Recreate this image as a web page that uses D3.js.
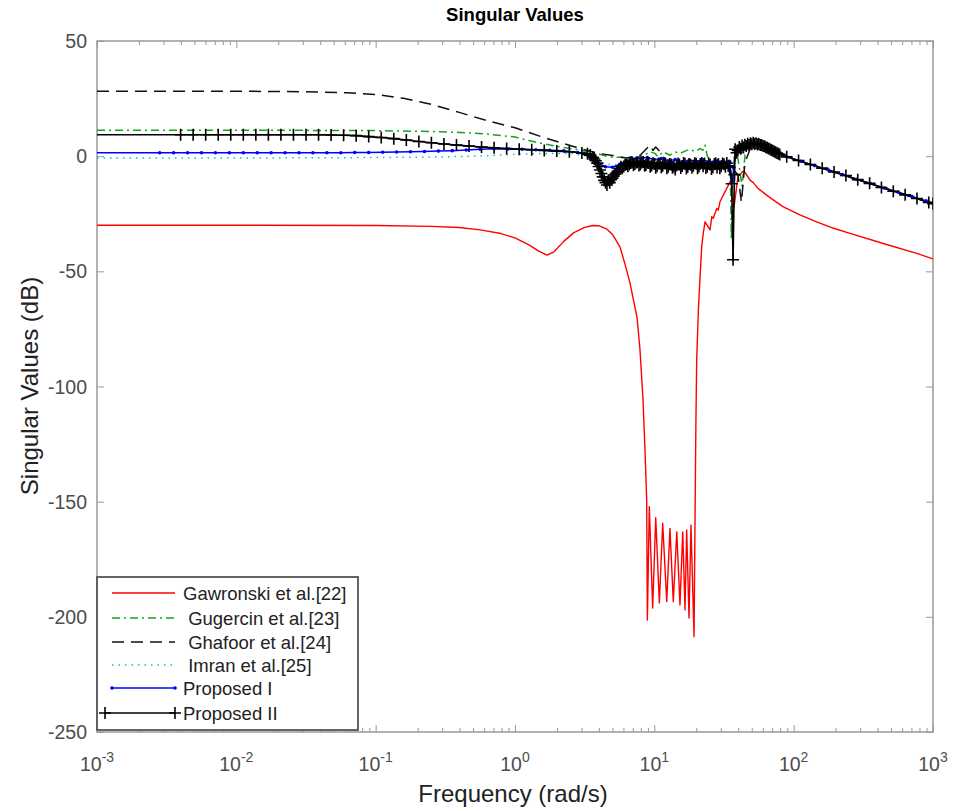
<!DOCTYPE html>
<html>
<head>
<meta charset="utf-8">
<script src="https://cdn.jsdelivr.net/npm/d3@7"></script>
<style>
body { margin: 0; background: #fff; }
text { font-family: "Liberation Sans", Arial, sans-serif; }
</style>
</head>
<body>
<svg id="chart" width="953" height="811"></svg>
<script>
// tick values (x as powers of ten)
const xTickExp = [-3, -2, -1, 0, 1, 2, 3];
const yTicks = [50, 0, -50, -100, -150, -200, -250];

const legendNames = ['Gawronski et al.[22]', ' Gugercin et al.[23]', ' Ghafoor et al.[24]', ' Imran et al.[25]', 'Proposed I', 'Proposed II'];

// each point: [log10(frequency rad/s), singular value dB]
const gawronski = [
  [-3, -30], [-2, -30], [-1, -30.1], [-0.6, -30.5], [-0.4, -31], [-0.25, -32], [-0.1, -33.6], [0, -35.5],
  [0.1, -38.5], [0.17, -41.2], [0.23, -43], [0.28, -41.5], [0.35, -37], [0.42, -33.3], [0.5, -30.9],
  [0.56, -30.1], [0.6, -30.2], [0.66, -31.7], [0.70, -34], [0.754, -39.5], [0.79, -47], [0.825, -55],
  [0.876, -70], [0.897, -84], [0.919, -106], [0.933, -127.6], [0.945, -149], [0.950, -201.4],
  [0.964, -152.2], [0.988, -196.2], [1.010, -157], [1.036, -194], [1.060, -159.4], [1.089, -193.4],
  [1.112, -161.6], [1.136, -193.4], [1.161, -163.1], [1.184, -194.9], [1.204, -163.1], [1.220, -197],
  [1.232, -162.3], [1.249, -200.5], [1.263, -160.2], [1.285, -208.6], [1.292, -158], [1.298, -117.6],
  [1.304, -88.5], [1.316, -67], [1.328, -52.4], [1.340, -39.4], [1.351, -33.5], [1.364, -28.5],
  [1.380, -30], [1.400, -32], [1.412, -26.3], [1.423, -27], [1.448, -22.7], [1.459, -23.4], [1.471, -19.8],
  [1.507, -15.5], [1.531, -12.6], [1.550, -10.5], [1.572, -22], [1.600, -9], [1.636, -6.5], [1.651, -7],
  [1.687, -10.4], [1.710, -11.5], [1.744, -14], [1.806, -16.9], [1.866, -19.5], [1.926, -22], [2.045, -25.5],
  [2.165, -28.5], [2.282, -31.2], [2.404, -33.5], [2.643, -37.9], [2.883, -42.2], [3, -44.6]
];

const gugercin = [
  [-3, 11.3], [-2, 11.3], [-1, 11.1], [-0.6, 10.7], [-0.4, 10.3], [-0.2, 9.6], [0, 8.3], [0.1, 6.8],
  [0.2, 5.4], [0.3, 4.3], [0.45, 2.8], [0.55, 1.7], [0.6, 1], [0.68, -0.4], [0.75, -0.5], [0.85, -1],
  [0.93, 0.5], [0.969, 1.9], [1.005, 1.2], [1.026, -0.3], [1.062, 1.9], [1.112, 0.4], [1.148, 1.9],
  [1.184, 1.2], [1.22, 2.2], [1.256, 3], [1.292, 1.9], [1.328, 3.3], [1.349, 2.6], [1.364, 4.8],
  [1.38, 0], [1.42, -2.5], [1.5, -3], [1.545, -4], [1.553, -36], [1.562, -12], [1.575, 2], [1.6, -1],
  [1.63, -13], [1.655, 3], [1.7, 5.2], [1.75, 5.3], [1.8, 4.3], [1.85, 2.8], [1.9, 1.2], [1.95, -0.3],
  [2.1, -3.2], [2.3, -7.1], [2.5, -11], [2.7, -14.8], [2.9, -18.7], [3, -20.5]
];

const ghafoor = [
  [-3, 28.2], [-2, 28.2], [-1.5, 28], [-1.2, 27.5], [-1, 26.8], [-0.8, 25.1], [-0.6, 22.5], [-0.4, 19],
  [-0.2, 15.4], [0, 12.3], [0.1, 10.3], [0.2, 8.2], [0.32, 6], [0.45, 3.6], [0.59, 1.3], [0.7, 0.3],
  [0.8, -0.8], [0.9, 0.5], [0.969, 4.8], [0.99, 2.5], [1.01, 4], [1.04, 2], [1.08, -2], [1.2, -3],
  [1.3, -3.5], [1.4, -3], [1.5, -4], [1.55, -5], [1.6, -8], [1.625, -20], [1.65, -3], [1.7, 5.2],
  [1.75, 5.3], [1.8, 4.3], [1.85, 2.8], [1.9, 1.2], [1.95, -0.3], [2.1, -3.2], [2.3, -7.1], [2.5, -11],
  [2.7, -14.8], [2.9, -18.7], [3, -20.5]
];

const imran = [
  [-3, -0.8], [-2, -0.8], [-1, -0.6], [-0.5, -0.3], [-0.2, 0.2], [0, 0.8], [0.2, 1.2], [0.4, 1.2],
  [0.5, 0.3], [0.58, -1.5], [0.65, -3.5], [0.72, -3.8], [0.8, -2], [0.9, -1], [1, -1.5], [1.1, -2],
  [1.2, -2.2], [1.3, -2], [1.4, -2.4], [1.5, -2.5], [1.555, -6], [1.57, -3], [1.6, 3], [1.65, 4.7],
  [1.7, 5.2], [1.75, 5.3], [1.8, 4.3], [1.85, 2.8], [1.9, 1.2], [1.95, -0.3], [2.1, -3.2], [2.3, -7.1],
  [2.5, -11], [2.7, -14.8], [2.9, -18.7], [3, -20.5]
];

const proposed1 = [
  [-3, 1.5], [-2.55, 1.5], [-2.45, 1.5], [-2.35, 1.5], [-2.25, 1.5], [-2.15, 1.5], [-2.05, 1.5],
  [-1.95, 1.5], [-1.85, 1.5], [-1.75, 1.5], [-1.65, 1.5], [-1.55, 1.5], [-1.45, 1.5], [-1.35, 1.5],
  [-1.25, 1.5], [-1.15, 1.6], [-1.05, 1.6], [-0.95, 1.7], [-0.85, 1.8], [-0.75, 1.9], [-0.65, 2.0],
  [-0.55, 2.2], [-0.45, 2.4], [-0.35, 2.7], [-0.25, 3.0], [-0.15, 3.2], [-0.05, 3.1], [0.05, 3.0],
  [0.15, 2.8], [0.25, 2.6], [0.35, 2.3], [0.45, 1.6], [0.5, 0.8], [0.55, -1], [0.6, -3.2], [0.65, -4.6],
  [0.7, -4.8], [0.75, -3.6], [0.8, -2], [0.85, -1.2], [0.9, -0.8], [0.95, -0.6], [1.0, -1.5], [1.05, -1],
  [1.1, -2], [1.15, -1.5], [1.2, -2.5], [1.25, -1.8], [1.3, -2.2], [1.35, -1.6], [1.4, -2.5], [1.45, -2],
  [1.5, -2.6], [1.54, -2.2], [1.56, -11], [1.57, -5], [1.59, 2.5], [1.62, 4], [1.66, 4.8], [1.7, 5.2],
  [1.75, 5.3], [1.8, 4.3], [1.85, 2.8], [1.9, 1.2], [1.95, -0.3], [2.05, -2.2], [2.15, -4.1], [2.25, -6],
  [2.35, -8], [2.45, -10], [2.55, -11.9], [2.65, -13.8], [2.75, -15.6], [2.85, -17.5], [2.95, -19.4], [3, -20.4]
];

const proposed2 = [
  [-3, 9.3], [-2.4, 9.3], [-2.31, 9.3], [-2.22, 9.3], [-2.13, 9.3], [-2.04, 9.3], [-1.95, 9.3], [-1.86, 9.3],
  [-1.77, 9.3], [-1.68, 9.3], [-1.59, 9.3], [-1.5, 9.3], [-1.41, 9.3], [-1.32, 9.2], [-1.23, 9.1],
  [-1.14, 8.9], [-1.05, 8.5], [-0.96, 8.1], [-0.87, 7.6], [-0.78, 7.0], [-0.69, 6.4], [-0.6, 5.8],
  [-0.51, 5.3], [-0.42, 4.8], [-0.33, 4.4], [-0.24, 4.0], [-0.15, 3.6], [-0.06, 3.3], [0.03, 3.0],
  [0.12, 2.8], [0.21, 2.5], [0.3, 2.2], [0.39, 1.9], [0.48, 1.4],
  [0.52, 1.0], [0.54, 0.5], [0.56, -0.5], [0.57, -1.2], [0.58, -2.0], [0.59, -3.0], [0.60, -4.5],
  [0.61, -6.0], [0.62, -7.5], [0.63, -9.0], [0.64, -10.5], [0.65, -11.5], [0.66, -12.5], [0.67, -10.5],
  [0.68, -11.5], [0.69, -10.2], [0.70, -9.6], [0.71, -8.6], [0.72, -7.8], [0.73, -7.0], [0.74, -6.5],
  [0.75, -5.5], [0.76, -4.6], [0.77, -5.2], [0.78, -4.5], [0.79, -3.8], [0.80, -3.5], [0.81, -4.4],
  [0.82, -3.6], [0.83, -3.0], [0.84, -2.8], [0.85, -3.9], [0.86, -3.4], [0.87, -2.7], [0.88, -2.6],
  [0.89, -4.0], [0.90, -3.6], [0.91, -2.8], [0.92, -2.5], [0.93, -4.2], [0.94, -3.8], [0.95, -2.9],
  [0.96, -3.0], [0.97, -4.6], [0.98, -4.0], [0.99, -3.1], [1.00, -3.4], [1.01, -5.0], [1.02, -4.4],
  [1.03, -3.2], [1.04, -3.3], [1.05, -4.8], [1.06, -4.2], [1.07, -3.0], [1.08, -3.2], [1.09, -5.3],
  [1.10, -4.6], [1.11, -3.4], [1.12, -3.6], [1.13, -5.0], [1.14, -4.5], [1.15, -5.8], [1.16, -4.0],
  [1.17, -3.2], [1.18, -3.6], [1.19, -5.1], [1.20, -4.3], [1.21, -3.0], [1.22, -3.3], [1.23, -5.4],
  [1.24, -4.6], [1.25, -3.4], [1.26, -3.7], [1.27, -5.0], [1.28, -4.2], [1.29, -3.1], [1.30, -3.3],
  [1.31, -5.2], [1.32, -4.5], [1.33, -3.4], [1.34, -3.0], [1.35, -4.4], [1.36, -3.2], [1.37, -5.1],
  [1.38, -4.6], [1.39, -3.3], [1.40, -3.6], [1.41, -5.6], [1.42, -4.8], [1.43, -3.5], [1.44, -3.1],
  [1.45, -4.9], [1.46, -3.4], [1.47, -5.2], [1.48, -4.4], [1.49, -3.2], [1.50, -3.5], [1.51, -4.6],
  [1.52, -3.0], [1.53, -4.2], [1.54, -4.8], [1.555, -12], [1.565, -45], [1.575, -8], [1.58, 3.0],
  [1.59, 1.5], [1.60, 2.5], [1.61, 4.0], [1.62, 3.2], [1.63, 4.6], [1.64, 3.8], [1.65, 5.0], [1.66, 4.4],
  [1.67, 5.4], [1.68, 4.8], [1.69, 5.6], [1.70, 5.2], [1.71, 5.8], [1.72, 5.3], [1.73, 5.6], [1.74, 5.1],
  [1.75, 5.3], [1.76, 4.8], [1.77, 4.9], [1.78, 4.4], [1.79, 4.3], [1.80, 3.9], [1.81, 3.7], [1.82, 3.3],
  [1.83, 3.0], [1.84, 2.7], [1.85, 2.4], [1.86, 2.0], [1.87, 1.7], [1.88, 1.4], [1.89, 1.0], [1.90, 0.7],
  [1.95, -0.3], [2.035, -1.9], [2.12, -3.6], [2.205, -5.2], [2.29, -6.9], [2.375, -8.4], [2.46, -10.2],
  [2.545, -11.8], [2.63, -13.6], [2.715, -15.2], [2.80, -16.8], [2.885, -18.4], [2.97, -20.1], [3, -20.6]
];

const width = 953, height = 811;
const margin = { left: 97, right: 933, top: 41, bottom: 732 };

const svg = d3.select('#chart');
svg.append('rect').attr('width', width).attr('height', height).attr('fill', '#fff');

const x = d3.scaleLog().domain([1e-3, 1e3]).range([margin.left, margin.right]);
const y = d3.scaleLinear().domain([-250, 50]).range([margin.bottom, margin.top]);

svg.append('clipPath').attr('id', 'plotClip')
  .append('rect')
  .attr('x', margin.left).attr('y', margin.top)
  .attr('width', margin.right - margin.left).attr('height', margin.bottom - margin.top);

// ticks (inside, all four sides)
const axisColor = '#999';
const majors = xTickExp.map(e => Math.pow(10, e));
const minors = [];
xTickExp.slice(0, -1).forEach(e => {
  for (let k = 2; k <= 9; k++) minors.push(k * Math.pow(10, e));
});

function styleAxis(g) {
  g.select('.domain').remove();
  g.selectAll('line').attr('stroke', axisColor).attr('stroke-width', 1);
  g.selectAll('text').remove();
}

svg.append('g').attr('transform', 'translate(0,' + margin.bottom + ')')
  .call(d3.axisBottom(x).tickValues(majors).tickSize(-7)).call(styleAxis);
svg.append('g').attr('transform', 'translate(0,' + margin.bottom + ')')
  .call(d3.axisBottom(x).tickValues(minors).tickSize(-4)).call(styleAxis);
svg.append('g').attr('transform', 'translate(0,' + margin.top + ')')
  .call(d3.axisTop(x).tickValues(majors).tickSize(-7)).call(styleAxis);
svg.append('g').attr('transform', 'translate(0,' + margin.top + ')')
  .call(d3.axisTop(x).tickValues(minors).tickSize(-4)).call(styleAxis);
svg.append('g').attr('transform', 'translate(' + margin.left + ',0)')
  .call(d3.axisLeft(y).tickValues(yTicks).tickSize(-7)).call(styleAxis);
svg.append('g').attr('transform', 'translate(' + margin.right + ',0)')
  .call(d3.axisRight(y).tickValues(yTicks).tickSize(-7)).call(styleAxis);

svg.append('rect')
  .attr('x', margin.left).attr('y', margin.top)
  .attr('width', margin.right - margin.left).attr('height', margin.bottom - margin.top)
  .attr('fill', 'none').attr('stroke', axisColor).attr('stroke-width', 1.5);

// tick labels
const tickColor = '#4d4d4d';
svg.append('g').selectAll('text').data(yTicks).join('text')
  .attr('x', margin.left - 10).attr('y', d => y(d) + 7)
  .attr('text-anchor', 'end').attr('font-size', 19.5).attr('fill', tickColor)
  .text(d => d);

const xl = svg.append('g').selectAll('text').data(xTickExp).join('text')
  .attr('x', d => x(Math.pow(10, d))).attr('y', 771)
  .attr('text-anchor', 'middle').attr('font-size', 19.5).attr('fill', tickColor);
xl.append('tspan').text('10');
xl.append('tspan').attr('dy', -9).attr('font-size', 14).text(d => d);

// titles
svg.append('text').attr('x', 515).attr('y', 21).attr('text-anchor', 'middle')
  .attr('font-size', 18.5).attr('font-weight', 'bold').attr('fill', '#000')
  .text('Singular Values');
svg.append('text').attr('x', 513).attr('y', 802).attr('text-anchor', 'middle')
  .attr('font-size', 24).attr('fill', '#222')
  .text('Frequency (rad/s)');
svg.append('text').attr('transform', 'translate(38,386) rotate(-90)').attr('text-anchor', 'middle')
  .attr('font-size', 24).attr('fill', '#222')
  .text('Singular Values (dB)');

// series
const line = d3.line().x(d => x(Math.pow(10, d[0]))).y(d => y(d[1]));
const plot = svg.append('g').attr('clip-path', 'url(#plotClip)');

const styles = [
  { data: gawronski, color: '#ff0000', dash: null, width: 1.4 },
  { data: gugercin, color: '#1ca01c', dash: '8,4,2,4', width: 1.5 },
  { data: ghafoor, color: '#111', dash: '12,7', width: 1.5 },
  { data: imran, color: '#00c4c4', dash: '1.5,5', width: 1.5 },
  { data: proposed1, color: '#0000ff', dash: null, width: 1.5 },
  { data: proposed2, color: '#000', dash: null, width: 1.6 }
];

styles.forEach(s => {
  plot.append('path').datum(s.data)
    .attr('fill', 'none').attr('stroke', s.color).attr('stroke-width', s.width)
    .attr('stroke-dasharray', s.dash)
    .attr('stroke-linejoin', 'round')
    .attr('d', line);
});

const plusPath = 'M-6,0H6M0,-6V6';

plot.append('g').selectAll('circle').data(proposed1.slice(1)).join('circle')
  .attr('cx', d => x(Math.pow(10, d[0]))).attr('cy', d => y(d[1]))
  .attr('r', 1.8).attr('fill', '#0000ff');

plot.append('g').selectAll('path').data(proposed2.slice(1)).join('path')
  .attr('transform', d => 'translate(' + x(Math.pow(10, d[0])) + ',' + y(d[1]) + ')')
  .attr('d', plusPath).attr('stroke', '#000').attr('stroke-width', 1.6);

// legend
const leg = svg.append('g');
leg.append('rect').attr('x', 97).attr('y', 577).attr('width', 261).attr('height', 153)
  .attr('fill', '#fff').attr('stroke', '#555').attr('stroke-width', 1.8);

const rowY = [593, 618, 642, 665, 688, 713];
styles.forEach((s, i) => {
  const x1 = i === 5 ? 105 : 112, x2 = 175;
  leg.append('line').attr('x1', x1).attr('x2', x2).attr('y1', rowY[i]).attr('y2', rowY[i])
    .attr('stroke', s.color).attr('stroke-width', s.width).attr('stroke-dasharray', s.dash);
  if (i === 4) {
    [x1, x2].forEach(px => leg.append('circle').attr('cx', px).attr('cy', rowY[i]).attr('r', 1.8).attr('fill', s.color));
  }
  if (i === 5) {
    [x1, x2].forEach(px => leg.append('path').attr('transform', 'translate(' + px + ',' + rowY[i] + ')')
      .attr('d', plusPath).attr('stroke', '#000').attr('stroke-width', 1.6));
  }
  leg.append('text').attr('x', 183).attr('y', rowY[i] + 6.5)
    .attr('font-size', 18.5).attr('fill', '#222')
    .style('white-space', 'pre')
    .text(legendNames[i]);
});
</script>
</body>
</html>
